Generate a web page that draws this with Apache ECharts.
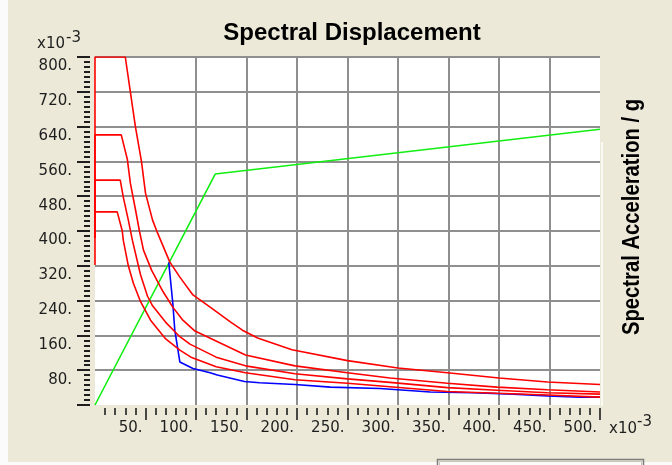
<!DOCTYPE html>
<html>
<head>
<meta charset="utf-8">
<script src="https://cdn.jsdelivr.net/npm/echarts@6/dist/echarts.min.js"></script>
<style>
  html, body { margin: 0; padding: 0; background: #ffffff; }
  #chart { width: 672px; height: 465px; }
</style>
</head>
<body>
<div id="chart"></div>
<script>
// Spectral displacement values (x10^-3) and spectral acceleration values (x10^-3 g)

// Demand spectra (red), largest to smallest
const demand1Sd = [0, 0, 30, 35, 40, 46, 50, 57, 62, 74, 84, 97, 114, 134, 146, 161, 195, 250, 300, 349, 400, 448, 500];
const demand1Sa = [322, 800, 800, 720, 640, 560, 487, 425, 395, 329, 294, 253, 225, 191, 172, 154, 127, 102, 85, 74, 62, 53, 47];

const demand2Sd = [0, 0, 26, 32, 35, 40, 44, 48, 56, 67, 77, 87, 99, 149, 198, 250, 292, 349, 398, 448, 500];
const demand2Sa = [384, 621, 621, 565, 510, 450, 400, 356, 310, 262, 225, 195, 170, 115, 90, 74, 62, 50, 41, 35, 30];

const demand3Sd = [0, 0, 25, 28, 33, 37, 45, 52, 57, 70, 84, 94, 120, 149, 198, 250, 292, 349, 398, 448, 500];
const demand3Sa = [384, 517, 517, 478, 425, 379, 300, 250, 228, 190, 157, 140, 110, 90, 72, 60, 52, 40, 34, 28, 25];

const demand4Sd = [0, 0, 22, 27, 28, 33, 38, 45, 55, 70, 84, 95, 120, 149, 198, 250, 292, 349, 398, 448, 500];
const demand4Sa = [384, 444, 444, 400, 379, 320, 280, 238, 195, 152, 126, 110, 88, 74, 58, 50, 42, 31, 27, 23, 18];

// Reduced demand path (blue)
const reducedSd = [73, 77, 79, 84, 97, 114, 121, 148, 163, 198, 233, 282, 332, 374, 414, 448, 480, 500];
const reducedSa = [328, 235, 172, 99, 84, 74, 69, 54, 51, 47, 41, 38, 30, 28, 25, 21, 18, 18];

// Capacity curve (green)
const capacitySd = [0, 119, 500];
const capacitySa = [0, 531, 634];

// Axis ranges and tick steps
const sdRange = [0, 500];
const sdStep = 50;
const saRange = [0, 800];
const saStep = 80;
const sdTickValues = [50, 100, 150, 200, 250, 300, 350, 400, 450, 500];

const titleText = 'Spectral Displacement';
const rightAxisText = 'Spectral Acceleration / g';
const unitBase = 'x10';
const unitExp = '-3';

const tickFont = '"DejaVu Sans", sans-serif';
const boldFont = '"Liberation Sans", Arial, sans-serif';
const inkColor = '#1e1e1e';
const gridColor = '#8f8f8f';

function pairs(xs, ys) {
  return xs.map((x, i) => [x, ys[i]]);
}

function curve(name, xs, ys, color, z) {
  return {
    type: 'line',
    name: name,
    data: pairs(xs, ys),
    symbol: 'none',
    showSymbol: false,
    clip: true,
    z: z,
    lineStyle: { color: color, width: 1.6 },
    itemStyle: { color: color },
    emphasis: { disabled: true }
  };
}

const chart = echarts.init(document.getElementById('chart'), null, { renderer: 'canvas' });

const option = {
  animation: false,
  backgroundColor: '#ECE9D8',
  grid: {
    left: 95, top: 57, right: 72, bottom: 60,
    show: true, backgroundColor: '#ffffff', borderWidth: 0
  },
  xAxis: {
    type: 'value',
    min: sdRange[0], max: sdRange[1], interval: sdStep,
    offset: 3,
    axisLine: { show: false, onZero: false },
    axisTick: { show: true, length: 12, customValues: sdTickValues, lineStyle: { color: inkColor, width: 1.6 } },
    minorTick: { show: true, splitNumber: 5, length: 7, lineStyle: { color: inkColor, width: 1.6 } },
    axisLabel: {
      showMinLabel: false,
      margin: 13,
      align: 'right',
      padding: [0, 3, 0, 0],
      color: inkColor,
      fontFamily: tickFont,
      fontSize: 15,
      formatter: v => v + '.'
    },
    splitLine: { show: true, showMinLine: false, showMaxLine: false, lineStyle: { color: gridColor, width: 2 } }
  },
  yAxis: {
    type: 'value',
    min: saRange[0], max: saRange[1], interval: saStep,
    offset: 5,
    axisLine: { show: false, onZero: false },
    axisTick: { show: true, length: 13, lineStyle: { color: inkColor, width: 2 } },
    minorTick: { show: true, splitNumber: 7, length: 6, lineStyle: { color: inkColor, width: 2 } },
    axisLabel: {
      showMinLabel: false,
      margin: 18,
      verticalAlign: 'top',
      padding: [2, 0, 0, 0],
      color: inkColor,
      fontFamily: tickFont,
      fontSize: 15,
      formatter: v => v + '.'
    },
    splitLine: { show: true, showMinLine: false, showMaxLine: true, lineStyle: { color: gridColor, width: 2 } }
  },
  series: [
    curve('Capacity', capacitySd, capacitySa, '#11ee11', 2),
    curve('Reduced demand', reducedSd, reducedSa, '#0000ff', 3),
    curve('Demand 4', demand4Sd, demand4Sa, '#ff0000', 4),
    curve('Demand 3', demand3Sd, demand3Sa, '#ff0000', 4),
    curve('Demand 2', demand2Sd, demand2Sa, '#ff0000', 4),
    curve('Demand 1', demand1Sd, demand1Sa, '#ff0000', 4)
  ],
  graphic: [
    // window edge strips
    { type: 'rect', silent: true, z: 50, shape: { x: 0, y: 0, width: 8, height: 465 }, style: { fill: '#fbfbfb' } },
    { type: 'rect', silent: true, z: 50, shape: { x: 0, y: 462, width: 672, height: 3 }, style: { fill: '#fbfbfb' } },
    // frame edge to the right of the plot
    { type: 'line', silent: true, z: 50, shape: { x1: 602, y1: 142, x2: 602, y2: 406 }, style: { stroke: '#ffffff', lineWidth: 1.5 } },
    // partially visible control below the chart
    { type: 'rect', silent: true, z: 51, shape: { x: 437.5, y: 459.5, width: 206, height: 12 }, style: { fill: 'none', stroke: '#7c7c7c', lineWidth: 1.5 } },
    { type: 'rect', silent: true, z: 51, shape: { x: 439.5, y: 461.5, width: 202, height: 10 }, style: { fill: 'none', stroke: '#c9c6b8', lineWidth: 1 } },
    // title
    {
      type: 'text', silent: true, z: 60, x: 352, y: 33,
      style: { text: titleText, fill: '#000000', font: 'bold 24px ' + boldFont, align: 'center', verticalAlign: 'middle' }
    },
    // right axis title
    {
      type: 'text', silent: true, z: 60, x: 633, y: 217, rotation: Math.PI / 2, scaleX: 0.88, scaleY: 1,
      style: { text: rightAxisText, fill: '#000000', font: 'bold 23px ' + boldFont, align: 'center', verticalAlign: 'middle' }
    },
    // exponent marker for the vertical axis
    { type: 'text', silent: true, z: 60, x: 37, y: 44, style: { text: unitBase, fill: inkColor, font: '15px ' + tickFont, align: 'left', verticalAlign: 'middle' } },
    { type: 'text', silent: true, z: 60, x: 66, y: 38, style: { text: unitExp, fill: inkColor, font: '15px ' + tickFont, align: 'left', verticalAlign: 'middle' } },
    // exponent marker for the horizontal axis
    { type: 'text', silent: true, z: 60, x: 609, y: 429, style: { text: unitBase, fill: inkColor, font: '15px ' + tickFont, align: 'left', verticalAlign: 'middle' } },
    { type: 'text', silent: true, z: 60, x: 637, y: 422, style: { text: unitExp, fill: inkColor, font: '15px ' + tickFont, align: 'left', verticalAlign: 'middle' } }
  ]
};

chart.setOption(option);
</script>
</body>
</html>
